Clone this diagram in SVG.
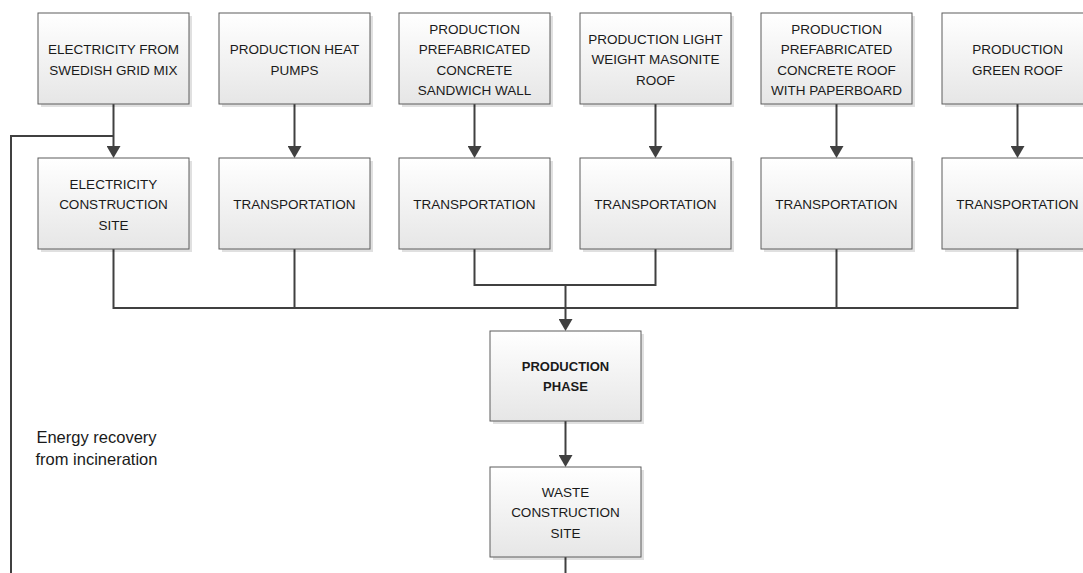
<svg xmlns="http://www.w3.org/2000/svg" width="1083" height="573" viewBox="0 0 1083 573">
  <style>
    .box { fill: url(#boxFill); stroke: #5c5c5c; stroke-width: 1; }
    .shadow { fill: #000; opacity: 0.12; }
    .lbl { font-family: "Liberation Sans", Arial, sans-serif; font-size: 13.5px; fill: #1a1a1a; text-anchor: middle; }
    .bold { font-weight: bold; font-size: 13px; }
    .note { font-family: "Liberation Sans", Arial, sans-serif; font-size: 16.5px; fill: #1a1a1a; text-anchor: middle; }
    .wire { fill: none; stroke: #404040; stroke-width: 2; }
    .arrow { fill: none; stroke: #404040; stroke-width: 2; marker-end: url(#head); }
  </style>
  <defs>
    <linearGradient id="boxFill" x1="0" y1="0" x2="0" y2="1">
      <stop offset="0" stop-color="#ffffff"/>
      <stop offset="1" stop-color="#e6e6e6"/>
    </linearGradient>
    <marker id="head" markerUnits="userSpaceOnUse" markerWidth="12" markerHeight="14" viewBox="0 0 12 14" refX="2" refY="7" orient="auto">
      <path d="M0,0 L12,7 L0,14 Z" fill="#404040"/>
    </marker>
  </defs>
  <rect width="1083" height="573" fill="#ffffff"/>

  <!-- connectors -->
  <g id="connectors">
    <!-- feedback loop from incineration back into site electricity -->
    <path class="wire" d="M11,573 V136 H113.5"/>
    <!-- supply to transport -->
    <path class="arrow" d="M113.5,104 V148"/>
    <path class="arrow" d="M294.5,104 V148"/>
    <path class="arrow" d="M474.5,104 V148"/>
    <path class="arrow" d="M655.5,104 V148"/>
    <path class="arrow" d="M836.5,104 V148"/>
    <path class="arrow" d="M1017.5,104 V148"/>
    <!-- collector bus -->
    <path class="wire" d="M113.5,249 V308 H1017.5 V249"/>
    <path class="wire" d="M294.5,249 V308"/>
    <path class="wire" d="M836.5,249 V308"/>
    <path class="wire" d="M474.5,249 V285 H655.5 V249"/>
    <path class="arrow" d="M565.5,285 V321"/>
    <!-- production to waste -->
    <path class="arrow" d="M565.5,421 V457"/>
    <path class="wire" d="M565.5,557 V573"/>
  </g>

  <!-- top row -->
  <g id="n-grid">
    <rect class="shadow" x="41" y="16" width="151" height="91"/>
    <rect class="box" x="38" y="13" width="151" height="91"/>
    <text class="lbl" x="113.5" y="54">ELECTRICITY FROM</text>
    <text class="lbl" x="113.5" y="74.5">SWEDISH GRID MIX</text>
  </g>
  <g id="n-heatpumps">
    <rect class="shadow" x="222" y="16" width="151" height="91"/>
    <rect class="box" x="219" y="13" width="151" height="91"/>
    <text class="lbl" x="294.5" y="54">PRODUCTION HEAT</text>
    <text class="lbl" x="294.5" y="74.5">PUMPS</text>
  </g>
  <g id="n-wall">
    <rect class="shadow" x="402" y="16" width="151" height="91"/>
    <rect class="box" x="399" y="13" width="151" height="91"/>
    <text class="lbl" x="474.5" y="33.5">PRODUCTION</text>
    <text class="lbl" x="474.5" y="54">PREFABRICATED</text>
    <text class="lbl" x="474.5" y="74.5">CONCRETE</text>
    <text class="lbl" x="474.5" y="95">SANDWICH WALL</text>
  </g>
  <g id="n-masonite">
    <rect class="shadow" x="583" y="16" width="151" height="91"/>
    <rect class="box" x="580" y="13" width="151" height="91"/>
    <text class="lbl" x="655.5" y="43.5">PRODUCTION LIGHT</text>
    <text class="lbl" x="655.5" y="64">WEIGHT MASONITE</text>
    <text class="lbl" x="655.5" y="84.5">ROOF</text>
  </g>
  <g id="n-concreteroof">
    <rect class="shadow" x="764" y="16" width="151" height="91"/>
    <rect class="box" x="761" y="13" width="151" height="91"/>
    <text class="lbl" x="836.5" y="33.5">PRODUCTION</text>
    <text class="lbl" x="836.5" y="54">PREFABRICATED</text>
    <text class="lbl" x="836.5" y="74.5">CONCRETE ROOF</text>
    <text class="lbl" x="836.5" y="95">WITH PAPERBOARD</text>
  </g>
  <g id="n-greenroof">
    <rect class="shadow" x="945" y="16" width="151" height="91"/>
    <rect class="box" x="942" y="13" width="151" height="91"/>
    <text class="lbl" x="1017.5" y="54">PRODUCTION</text>
    <text class="lbl" x="1017.5" y="74.5">GREEN ROOF</text>
  </g>

  <!-- second row -->
  <g id="n-siteelec">
    <rect class="shadow" x="41" y="161" width="151" height="91"/>
    <rect class="box" x="38" y="158" width="151" height="91"/>
    <text class="lbl" x="113.5" y="188.5">ELECTRICITY</text>
    <text class="lbl" x="113.5" y="209">CONSTRUCTION</text>
    <text class="lbl" x="113.5" y="229.5">SITE</text>
  </g>
  <g id="n-transport2">
    <rect class="shadow" x="222" y="161" width="151" height="91"/>
    <rect class="box" x="219" y="158" width="151" height="91"/>
    <text class="lbl" x="294.5" y="209">TRANSPORTATION</text>
  </g>
  <g id="n-transport3">
    <rect class="shadow" x="402" y="161" width="151" height="91"/>
    <rect class="box" x="399" y="158" width="151" height="91"/>
    <text class="lbl" x="474.5" y="209">TRANSPORTATION</text>
  </g>
  <g id="n-transport4">
    <rect class="shadow" x="583" y="161" width="151" height="91"/>
    <rect class="box" x="580" y="158" width="151" height="91"/>
    <text class="lbl" x="655.5" y="209">TRANSPORTATION</text>
  </g>
  <g id="n-transport5">
    <rect class="shadow" x="764" y="161" width="151" height="91"/>
    <rect class="box" x="761" y="158" width="151" height="91"/>
    <text class="lbl" x="836.5" y="209">TRANSPORTATION</text>
  </g>
  <g id="n-transport6">
    <rect class="shadow" x="945" y="161" width="151" height="91"/>
    <rect class="box" x="942" y="158" width="151" height="91"/>
    <text class="lbl" x="1017.5" y="209">TRANSPORTATION</text>
  </g>

  <!-- central chain -->
  <g id="n-production">
    <rect class="shadow" x="493" y="334" width="151" height="90"/>
    <rect class="box" x="490" y="331" width="151" height="90"/>
    <text class="lbl bold" x="565.5" y="371">PRODUCTION</text>
    <text class="lbl bold" x="565.5" y="391">PHASE</text>
  </g>
  <g id="n-waste">
    <rect class="shadow" x="493" y="470" width="151" height="90"/>
    <rect class="box" x="490" y="467" width="151" height="90"/>
    <text class="lbl" x="565.5" y="496.5">WASTE</text>
    <text class="lbl" x="565.5" y="517">CONSTRUCTION</text>
    <text class="lbl" x="565.5" y="537.5">SITE</text>
  </g>

  <!-- loop annotation -->
  <g id="n-recovery-label">
    <text class="note" x="96.5" y="443">Energy recovery</text>
    <text class="note" x="96.5" y="465">from incineration</text>
  </g>
</svg>
